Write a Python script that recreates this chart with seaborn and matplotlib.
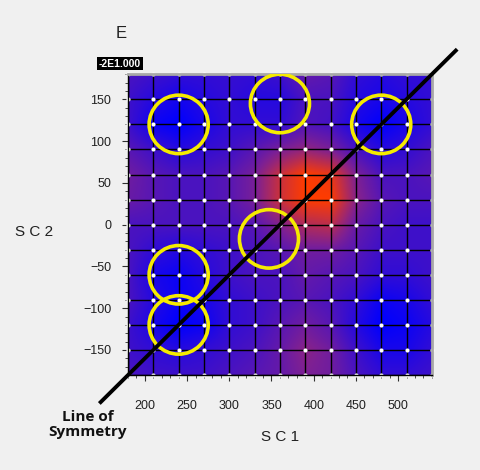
import numpy as np
import pandas as pd
import matplotlib
matplotlib.use("Agg")
import matplotlib.pyplot as plt
import seaborn as sns
from matplotlib.colors import LinearSegmentedColormap
from matplotlib.patches import Circle
from matplotlib.ticker import MultipleLocator

# grid nodes of the energy surface
sc1_nodes = [180, 210, 240, 270, 300, 330, 360, 390, 420, 450, 480, 510, 540]
sc2_nodes = [180, 150, 120, 90, 60, 30, 0, -30, -60, -90, -120, -150, -180]

# relative energy at each node (rows: SC2 top to bottom, cols: SC1 left to right)
energy = [
    [0.30, 0.25, 0.20, 0.20, 0.22, 0.20, 0.25, 0.40, 0.35, 0.20, 0.15, 0.20, 0.20],
    [0.25, 0.15, 0.08, 0.15, 0.20, 0.15, 0.15, 0.30, 0.30, 0.15, 0.10, 0.15, 0.20],
    [0.25, 0.05, 0.00, 0.10, 0.20, 0.20, 0.20, 0.32, 0.27, 0.10, 0.00, 0.10, 0.20],
    [0.35, 0.25, 0.15, 0.20, 0.25, 0.35, 0.48, 0.58, 0.48, 0.28, 0.15, 0.20, 0.30],
    [0.45, 0.35, 0.30, 0.30, 0.35, 0.48, 0.78, 1.00, 0.92, 0.50, 0.30, 0.30, 0.35],
    [0.42, 0.35, 0.30, 0.30, 0.35, 0.48, 0.80, 1.00, 1.00, 0.55, 0.35, 0.30, 0.30],
    [0.30, 0.30, 0.30, 0.30, 0.30, 0.35, 0.52, 0.70, 0.75, 0.42, 0.30, 0.25, 0.25],
    [0.30, 0.20, 0.15, 0.20, 0.25, 0.30, 0.35, 0.45, 0.45, 0.35, 0.25, 0.25, 0.25],
    [0.30, 0.10, 0.05, 0.15, 0.25, 0.30, 0.30, 0.40, 0.35, 0.30, 0.20, 0.20, 0.25],
    [0.30, 0.15, 0.05, 0.10, 0.20, 0.25, 0.30, 0.35, 0.30, 0.20, 0.05, 0.10, 0.20],
    [0.25, 0.10, 0.00, 0.05, 0.20, 0.25, 0.35, 0.45, 0.35, 0.15, 0.00, 0.05, 0.15],
    [0.25, 0.20, 0.15, 0.20, 0.25, 0.30, 0.40, 0.55, 0.45, 0.25, 0.10, 0.10, 0.20],
    [0.30, 0.25, 0.25, 0.25, 0.30, 0.35, 0.40, 0.50, 0.45, 0.30, 0.20, 0.20, 0.25],
]

# highlighted minima
circle_sc1 = [240, 360, 480, 347, 240, 240]
circle_sc2 = [120, 145, 120, -17, -60, -120]
circle_radius = 35

# line of symmetry end points
sym_sc1 = [146, 570]
sym_sc2 = [-214, 210]

x_ticks = [200, 250, 300, 350, 400, 450, 500]
y_ticks = [-150, -100, -50, 0, 50, 100, 150]

sns.set_theme(style="white")
plt.rcParams["font.family"] = ["Liberation Sans", "DejaVu Sans"]

bg = "#f0f0f0"
fig = plt.figure(figsize=(4.8, 4.7), dpi=100, facecolor=bg)
ax = fig.add_axes([0.2667, 0.202, 0.633, 0.64])

cmap = LinearSegmentedColormap.from_list("blue_red", ["#0000ff", "#7d2094", "#ff3c00"])
ax.imshow(np.array(energy), cmap=cmap, vmin=0, vmax=1, interpolation="bilinear",
          extent=[165, 555, -195, 195], origin="upper", aspect="auto", zorder=0)

# mesh lines
for x in sc1_nodes:
    ax.axvline(x, color="black", lw=1.0, zorder=1)
for y in sc2_nodes:
    ax.axhline(y, color="black", lw=1.0, zorder=1)

nodes = pd.DataFrame([(x, y) for y in sc2_nodes for x in sc1_nodes], columns=["SC1", "SC2"])
sns.scatterplot(data=nodes, x="SC1", y="SC2", color="white", s=9, linewidth=0,
                ax=ax, zorder=2, clip_on=False)

for cx, cy in zip(circle_sc1, circle_sc2):
    ax.add_patch(Circle((cx, cy), circle_radius, fill=False, ec="#f5eb00", lw=2.6, zorder=3))

ax.plot(sym_sc1, sym_sc2, color="black", lw=2.8, clip_on=False, zorder=4,
        solid_capstyle="butt")

ax.set_xlim(180, 540)
ax.set_ylim(-180, 180)
ax.set_xticks(x_ticks)
ax.set_yticks(y_ticks)
ax.xaxis.set_minor_locator(MultipleLocator(10))
ax.yaxis.set_minor_locator(MultipleLocator(10))
ax.tick_params(which="major", direction="out", length=4, width=0.8, color="#303030",
               labelsize=9, labelcolor="#202020", pad=14, bottom=True, left=True)
ax.tick_params(axis="y", which="major", pad=8)
ax.tick_params(which="minor", direction="out", length=2, width=0.6, color="#303030",
               bottom=True, left=True)
ax.set_xlabel("")
ax.set_ylabel("")

for side in ["left", "bottom"]:
    ax.spines[side].set_color("black")
    ax.spines[side].set_linewidth(1.0)
for side in ["top", "right"]:
    ax.spines[side].set_color("#a8a8a8")
    ax.spines[side].set_linewidth(2.0)

fig.text(0.252, 0.928, "E", fontsize=12, ha="center", va="center", color="#202020")
fig.text(0.583, 0.070, "S C 1", fontsize=11, ha="center", va="center", color="#202020")
fig.text(0.071, 0.506, "S C 2", fontsize=11, ha="center", va="center", color="#202020")
fig.text(0.25, 0.864, "-2E1.000", fontsize=7.5, fontweight="bold", ha="center", va="center",
         color="white", bbox=dict(boxstyle="square,pad=0.15", fc="black", ec="none"))
fig.text(0.183, 0.097, "Line of\nSymmetry", fontsize=11, fontweight="bold",
         ha="center", va="center", linespacing=1.1, color="#111111",
         family=["Open Sans", "DejaVu Sans"])

fig.savefig("out.png", dpi=100, facecolor=bg)
